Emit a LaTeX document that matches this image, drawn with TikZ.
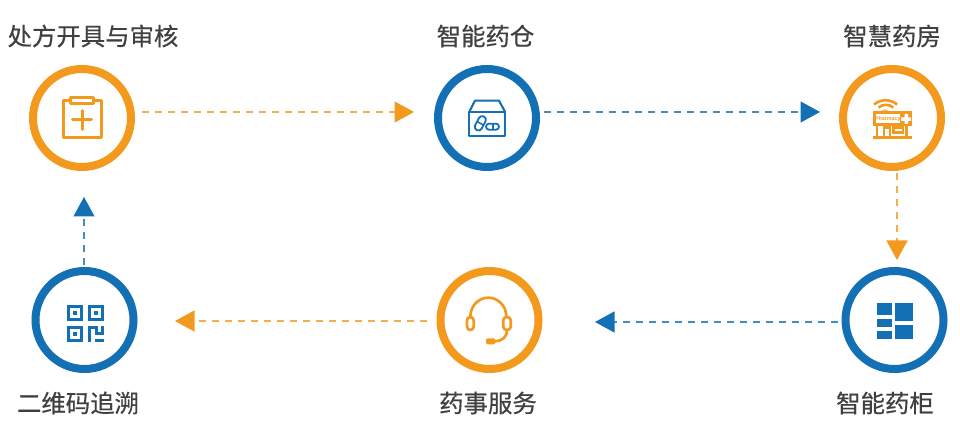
\documentclass[tikz,border=0pt]{standalone}
\usepackage{fontspec}
\newfontfamily\cjk[FakeBold=0.5]{Noto Sans CJK SC}
\setmainfont{Liberation Sans}
\usetikzlibrary{arrows.meta}
\definecolor{org}{HTML}{F39A1E}
\definecolor{blu}{HTML}{1470B5}
\definecolor{lbl}{HTML}{404040}
\tikzset{
  ring/.style={circle,draw=#1,line width=8pt,minimum size=98pt,inner sep=0pt,fill=white},
  flow/.style={draw=#1!80!white,line width=1.3pt,dash pattern=on 7pt off 6pt,
    -{Triangle[length=19.5pt,width=21pt,color=#1,fill=#1]}},
  captext/.style={text=lbl,font=\cjk\fontsize{24.4}{28}\selectfont,inner sep=0pt},
  iconline/.style={draw=#1,line width=2.7pt,line join=round,line cap=round},
  tile/.style={fill=blu,draw=none},
}
\begin{document}
\begin{tikzpicture}[x=1pt,y=-1pt]
\useasboundingbox (0,0) rectangle (960,435);
\fill[white] (0,0) rectangle (960,435);
% rings
\node[ring=org] (a) at (82,118) {};
\node[ring=blu] (b) at (487,118) {};
\node[ring=org] (c) at (892,118) {};
\node[ring=blu] (d) at (894.5,320) {};
\node[ring=org] (e) at (489.5,320) {};
\node[ring=blu] (f) at (84.5,320) {};
% labels
\node[captext] (la) at (93,36) {处方开具与审核};
\node[captext] (lb) at (485.5,36) {智能药仓};
\node[captext] (lc) at (892,36) {智慧药房};
\node[captext] (ld) at (885,403) {智能药柜};
\node[captext] (le) at (488,403) {药事服务};
\node[captext] (lf) at (78,403) {二维码追溯};
% connectors
\draw[flow=org] ([shift={(7,-6)}]a.east) -- ([shift={(-20,-6)}]b.west);
\draw[flow=blu] ([shift={(4,-6)}]b.east) -- ([shift={(-19,-6)}]c.west);
\draw[flow=org] ([shift={(5,2)}]c.south) -- ([shift={(2.5,-7)}]d.north);
\draw[flow=blu] ([shift={(-3.5,2)}]d.west) -- ([shift={(52.5,2)}]e.east);
\draw[flow=org] ([shift={(-9.5,1)}]e.west) -- ([shift={(37.5,1)}]f.east);
\draw[flow=blu] ([shift={(-.5,-2)}]f.north) -- ([shift={(2,26)}]a.south);
% icon a: clipboard
\draw[iconline=org,line width=3pt] (70,101) -- (63,101) -- (63,138) -- (101,138) -- (101,101) -- (94,101);
\draw[iconline=org,line width=3pt] (70.5,97.5) rectangle (93.5,104);
\draw[iconline=org,line width=3pt] (82,110.5) -- (82,129.5) (72.5,120) -- (91.5,120);
% icon b: box with capsules
\begin{scope}[shift={(425,60)},x=0.3333pt,y=-0.3333pt]
\draw[iconline=blu,line width=2.1pt] (133,155) rectangle (240,227);
\draw[iconline=blu,line width=2.1pt] (133,155) -- (150,122) -- (222,122) -- (240,155);
\draw[iconline=blu,line width=1.8pt,rounded corners=3.5pt,rotate around={62:(166,190)}] (143,179) rectangle (189,201);
\draw[iconline=blu,line width=1.5pt,rotate around={62:(166,190)}] (166,179) -- (166,201);
\draw[iconline=blu,line width=1.8pt,rounded corners=3pt] (183,191) rectangle (222,209);
\fill[blu] (200,191) rectangle (208,209);
\end{scope}
% icon c: pharmacy
\draw[org,line width=2.6pt,line cap=butt] (874,104.5) arc[start angle=-130,end angle=-50,radius=18];
\draw[org,line width=2.6pt,line cap=butt] (878.5,107.5) arc[start angle=-130,end angle=-50,radius=11.5];
\fill[org] (881.5,110.7) arc[start angle=-130,end angle=-50,radius=5.5] -- cycle;
\fill[org] (872.5,110.7) rectangle (912,126);
\fill[white] (875.7,114) rectangle (900,123.3);
\node[inner sep=0pt,text=org,font=\fontsize{5.4}{6}\bfseries\selectfont] (rx) at (887.8,118.7) {Pharmacy};
\fill[white] (904.5,114) rectangle (908,124) (901.2,117.3) rectangle (911.2,120.8);
\draw[org,line width=2.4pt] (877,126) -- (877,137) (906.5,126) -- (906.5,137);
\fill[org] (872.5,136) rectangle (912,139.5);
\draw[org,line width=2.2pt] (884,137) -- (884,127.5) -- (890,127.5) -- (890,137);
\draw[org,line width=2.2pt] (893.5,127.5) rectangle (903,132.5);
% icon d: tiles
\begin{scope}[shift={(830,260)},x=0.3333pt,y=-0.3333pt]
\fill[tile] (140,130) rectangle (186,165);
\fill[tile] (140,177) rectangle (186,201);
\fill[tile] (140,212) rectangle (186,238);
\fill[tile] (195,130) rectangle (250,183);
\fill[tile] (195,194) rectangle (250,238);
\end{scope}
% icon e: headset
\begin{scope}[shift={(425,260)},x=0.3333pt,y=-0.3333pt]
\draw[iconline=org] (136,170) arc[start angle=180,end angle=360,x radius=54,y radius=57];
\draw[iconline=org,rounded corners=3.3pt] (126,171) rectangle (146,210);
\draw[iconline=org,rounded corners=3.3pt] (235,171) rectangle (257,210);
\draw[iconline=org] (246,210) .. controls (246,232) and (232,243) .. (208,244);
\fill[org,rounded corners=1.5pt] (183,235) rectangle (211,253);
\end{scope}
% icon f: QR
\begin{scope}[line width=3pt]
\draw[blu] (68.8,306.5) rectangle (81.8,319.5);
\draw[blu] (89.5,306.5) rectangle (102.5,319.5);
\draw[blu] (68.8,327.2) rectangle (81.8,340.2);
\fill[blu] (73.3,311) rectangle (77.3,315);
\fill[blu] (94,311) rectangle (98,315);
\fill[blu] (73.3,331.7) rectangle (77.3,335.7);
\fill[blu] (88,325.7) rectangle (91,341.7);
\fill[blu] (88,325.7) rectangle (97.5,328.5);
\fill[blu] (95,325.7) rectangle (97.5,334);
\fill[blu] (95,332) rectangle (104,334.5);
\fill[blu] (101,325.7) rectangle (104,334.5);
\fill[blu] (95,339) rectangle (104,341.7);
\end{scope}
\end{tikzpicture}
\end{document}
